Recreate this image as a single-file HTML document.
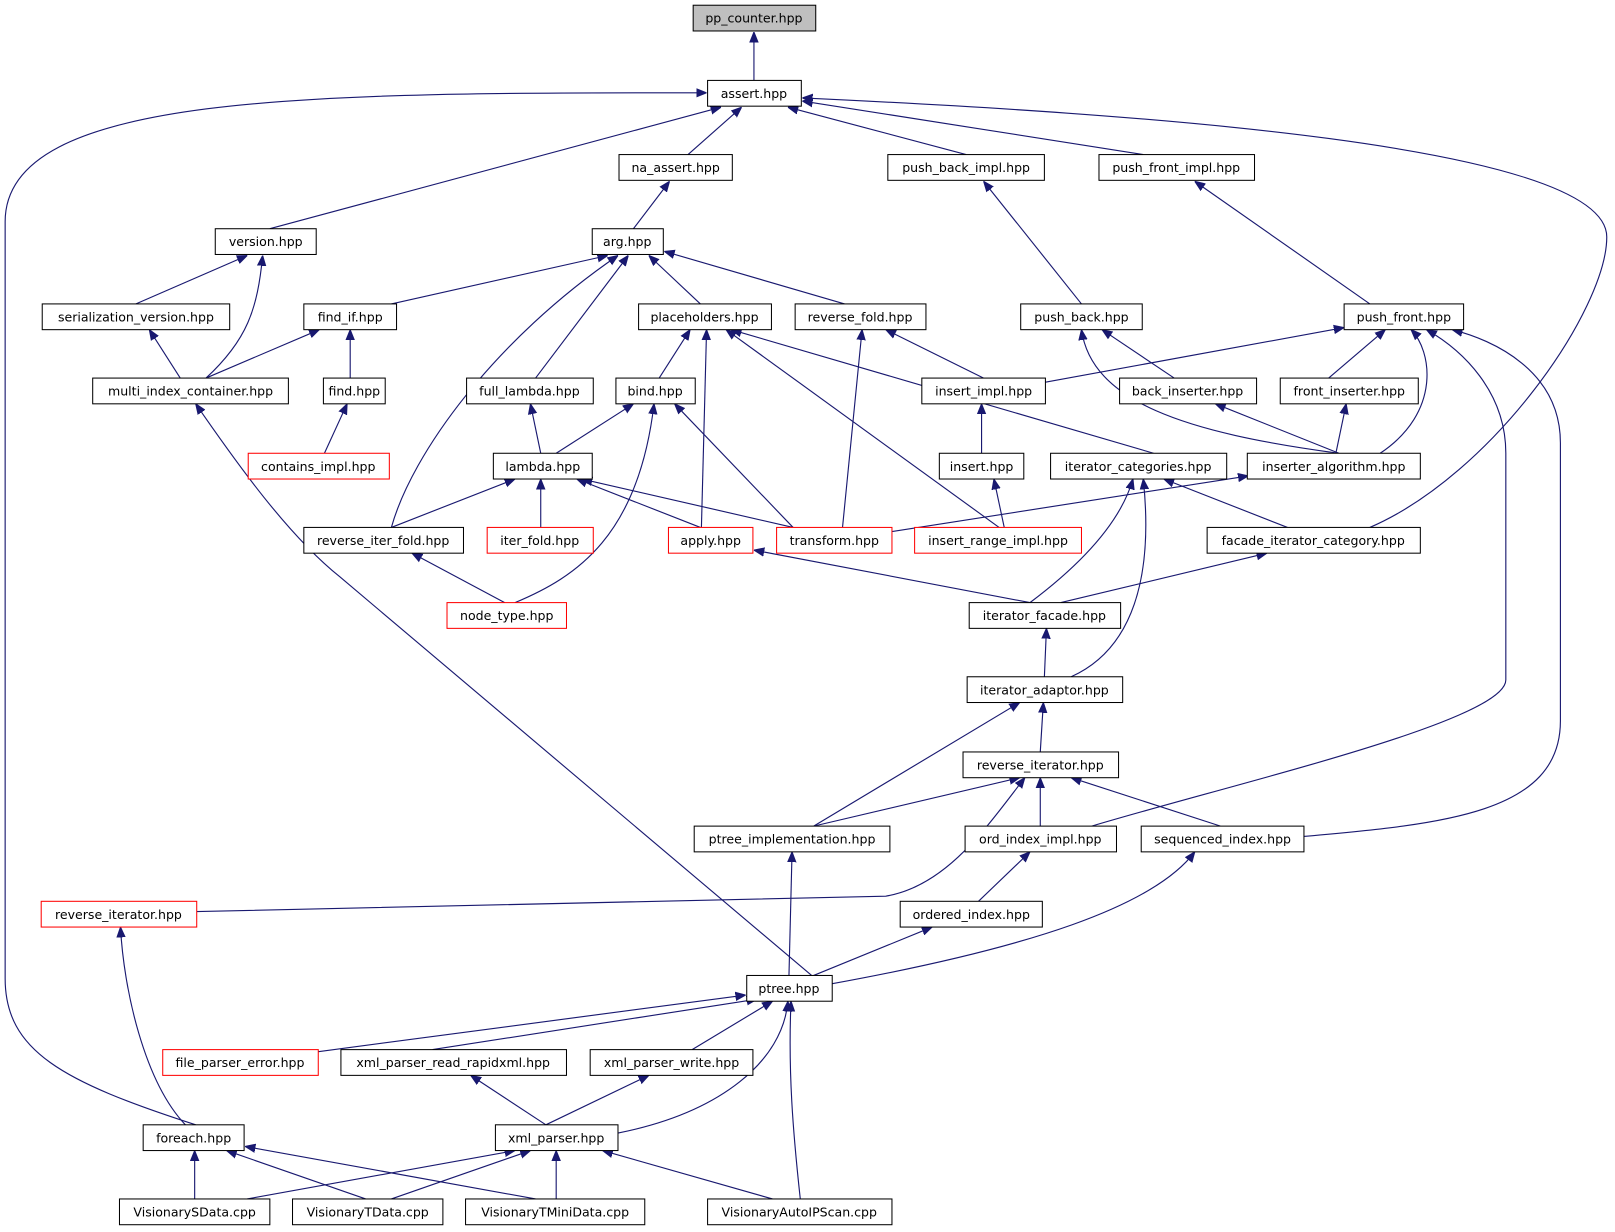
<!DOCTYPE html>
<html><head><meta charset="utf-8"><style>
html,body{margin:0;padding:0;background:#fff;width:1615px;height:1232px;overflow:hidden}
svg{display:block}
text{font-family:"DejaVu Sans","Liberation Sans",sans-serif;font-size:12.2px;text-anchor:middle;fill:#000}
.e{fill:none;stroke:#191970;stroke-width:1.1}
.n{fill:#fff;stroke:#000;stroke-width:1}
.r{fill:#fff;stroke:#ff0000;stroke-width:1}
</style></head><body>
<svg width="1615" height="1232" viewBox="0 0 1568 1196" xmlns="http://www.w3.org/2000/svg">
<defs><marker id="a" viewBox="0 0 10 10" refX="10" refY="5" markerWidth="10" markerHeight="10" markerUnits="userSpaceOnUse" orient="auto"><path d="M0,1 L10,5 L0,9 z" fill="#191970" stroke="#191970"/></marker></defs>
<g class="e" marker-end="url(#a)">
<path d="M732,78 L732,31"/>
<path d="M668,150 L720,104"/>
<path d="M262,222 L700,104"/>
<path d="M938,150 L765,104"/>
<path d="M1110,150 L779,98"/>
<path d="M190,1092 C60,1050 5,1020 5,950 L5,215 C5,90 300,90 686,90"/>
<path d="M1330,512 C1450,460 1560,300 1560,230 C1560,140 1100,110 779,95"/>
<path d="M615,222 L650,176"/>
<path d="M132,295 L240,248"/>
<path d="M200,367 C240,330 250,300 255,248"/>
<path d="M200,367 L310,320"/>
<path d="M175,367 L145,320"/>
<path d="M380,295 L590,248"/>
<path d="M340,367 L340,320"/>
<path d="M315,440 L337,392"/>
<path d="M380,512 C400,440 480,330 600,248"/>
<path d="M520,367 L610,248"/>
<path d="M680,295 L630,248"/>
<path d="M820,295 L645,244"/>
<path d="M1050,295 L955,176"/>
<path d="M1330,295 L1160,176"/>
<path d="M640,367 L670,320"/>
<path d="M681,512 L686,320"/>
<path d="M970,512 L705,320"/>
<path d="M1120,440 L710,320"/>
<path d="M955,367 L860,320"/>
<path d="M818,512 L837,320"/>
<path d="M1015,371 L1305,318"/>
<path d="M1140,367 L1070,320"/>
<path d="M1300,440 C1150,420 1060,390 1050,320"/>
<path d="M1290,367 L1345,320"/>
<path d="M1340,440 C1400,400 1390,340 1370,320"/>
<path d="M1060,802 C1200,760 1462,700 1462,660 L1462,440 C1462,380 1420,340 1385,320"/>
<path d="M1266,812 C1400,800 1515,790 1515,700 L1515,430 C1515,360 1450,330 1410,320"/>
<path d="M525,440 L515,392"/>
<path d="M540,440 L615,392"/>
<path d="M770,512 L655,392"/>
<path d="M500,585 C560,560 620,520 635,392"/>
<path d="M1300,440 L1180,392"/>
<path d="M1297,440 L1307,392"/>
<path d="M953,440 L953,392"/>
<path d="M380,512 L500,465"/>
<path d="M525,512 L525,465"/>
<path d="M680,512 L560,465"/>
<path d="M770,512 L565,465"/>
<path d="M975,512 L965,465"/>
<path d="M866,516 L1212,462"/>
<path d="M1000,585 C1060,540 1090,500 1100,465"/>
<path d="M1040,657 C1100,630 1120,560 1110,465"/>
<path d="M1250,512 L1130,465"/>
<path d="M490,585 L400,537"/>
<path d="M1000,585 L732,534"/>
<path d="M1030,585 L1230,537"/>
<path d="M1014,657 L1016,610"/>
<path d="M1010,730 L1013,682"/>
<path d="M790,802 L990,682"/>
<path d="M790,802 L990,755"/>
<path d="M1010,802 L1010,755"/>
<path d="M1185,802 L1040,755"/>
<path d="M191,885 L860,870 C920,860 960,800 995,755"/>
<path d="M950,875 L1000,827"/>
<path d="M788,947 L330,560 C280,520 230,450 190,392"/>
<path d="M766,947 L769,827"/>
<path d="M790,947 L905,900"/>
<path d="M808,955 C1000,920 1120,880 1160,827"/>
<path d="M180,1092 C140,1050 120,960 117,900"/>
<path d="M309,1021 L724,966"/>
<path d="M420,1019 L735,970"/>
<path d="M672,1019 L750,972"/>
<path d="M600,1100 C700,1080 760,1030 765,972"/>
<path d="M777,1164 C770,1100 765,1040 768,972"/>
<path d="M530,1092 L457,1044"/>
<path d="M530,1092 L630,1044"/>
<path d="M189,1164 L189,1117"/>
<path d="M355,1164 L220,1117"/>
<path d="M520,1164 L238,1113"/>
<path d="M240,1164 L500,1117"/>
<path d="M380,1164 L515,1117"/>
<path d="M540,1164 L540,1117"/>
<path d="M750,1164 L585,1117"/>
</g>
<g>
<rect x="673" y="5" width="119" height="25" fill="#bfbfbf" stroke="#000"/><text x="732" y="22">pp_counter.hpp</text>
<rect class="n" x="687" y="78" width="91" height="25"/><text x="732" y="95">assert.hpp</text>
<rect class="n" x="601" y="150" width="110" height="25"/><text x="656" y="167">na_assert.hpp</text>
<rect class="n" x="862" y="150" width="152" height="25"/><text x="938" y="167">push_back_impl.hpp</text>
<rect class="n" x="1067" y="150" width="151" height="25"/><text x="1142" y="167">push_front_impl.hpp</text>
<rect class="n" x="209" y="222" width="98" height="25"/><text x="258" y="239">version.hpp</text>
<rect class="n" x="575" y="222" width="69" height="25"/><text x="609" y="239">arg.hpp</text>
<rect class="n" x="41" y="295" width="182" height="25"/><text x="132" y="312">serialization_version.hpp</text>
<rect class="n" x="295" y="295" width="90" height="25"/><text x="340" y="312">find_if.hpp</text>
<rect class="n" x="620" y="295" width="129" height="25"/><text x="684" y="312">placeholders.hpp</text>
<rect class="n" x="772" y="295" width="127" height="25"/><text x="835" y="312">reverse_fold.hpp</text>
<rect class="n" x="991" y="295" width="118" height="25"/><text x="1050" y="312">push_back.hpp</text>
<rect class="n" x="1305" y="295" width="116" height="25"/><text x="1363" y="312">push_front.hpp</text>
<rect class="n" x="90" y="367" width="190" height="25"/><text x="185" y="384">multi_index_container.hpp</text>
<rect class="n" x="314" y="367" width="60" height="25"/><text x="344" y="384">find.hpp</text>
<rect class="n" x="453" y="367" width="123" height="25"/><text x="514" y="384">full_lambda.hpp</text>
<rect class="n" x="598" y="367" width="77" height="25"/><text x="636" y="384">bind.hpp</text>
<rect class="n" x="895" y="367" width="120" height="25"/><text x="955" y="384">insert_impl.hpp</text>
<rect class="n" x="1087" y="367" width="133" height="25"/><text x="1153" y="384">back_inserter.hpp</text>
<rect class="n" x="1243" y="367" width="134" height="25"/><text x="1310" y="384">front_inserter.hpp</text>
<rect class="r" x="241" y="440" width="137" height="25"/><text x="309" y="457">contains_impl.hpp</text>
<rect class="n" x="479" y="440" width="96" height="25"/><text x="527" y="457">lambda.hpp</text>
<rect class="n" x="912" y="440" width="82" height="25"/><text x="953" y="457">insert.hpp</text>
<rect class="n" x="1020" y="440" width="171" height="25"/><text x="1105" y="457">iterator_categories.hpp</text>
<rect class="n" x="1211" y="440" width="168" height="25"/><text x="1295" y="457">inserter_algorithm.hpp</text>
<rect class="n" x="295" y="512" width="155" height="25"/><text x="372" y="529">reverse_iter_fold.hpp</text>
<rect class="r" x="473" y="512" width="103" height="25"/><text x="524" y="529">iter_fold.hpp</text>
<rect class="r" x="649" y="512" width="82" height="25"/><text x="690" y="529">apply.hpp</text>
<rect class="r" x="754" y="512" width="112" height="25"/><text x="810" y="529">transform.hpp</text>
<rect class="r" x="888" y="512" width="162" height="25"/><text x="969" y="529">insert_range_impl.hpp</text>
<rect class="n" x="1172" y="512" width="207" height="25"/><text x="1275" y="529">facade_iterator_category.hpp</text>
<rect class="r" x="434" y="585" width="116" height="25"/><text x="492" y="602">node_type.hpp</text>
<rect class="n" x="941" y="585" width="147" height="25"/><text x="1014" y="602">iterator_facade.hpp</text>
<rect class="n" x="939" y="657" width="151" height="25"/><text x="1014" y="674">iterator_adaptor.hpp</text>
<rect class="n" x="935" y="730" width="151" height="25"/><text x="1010" y="747">reverse_iterator.hpp</text>
<rect class="n" x="674" y="802" width="190" height="25"/><text x="769" y="819">ptree_implementation.hpp</text>
<rect class="n" x="937" y="802" width="147" height="25"/><text x="1010" y="819">ord_index_impl.hpp</text>
<rect class="n" x="1108" y="802" width="158" height="25"/><text x="1187" y="819">sequenced_index.hpp</text>
<rect class="r" x="40" y="875" width="151" height="25"/><text x="115" y="892">reverse_iterator.hpp</text>
<rect class="n" x="874" y="875" width="138" height="25"/><text x="943" y="892">ordered_index.hpp</text>
<rect class="n" x="725" y="947" width="83" height="25"/><text x="766" y="964">ptree.hpp</text>
<rect class="r" x="158" y="1019" width="151" height="25"/><text x="233" y="1036">file_parser_error.hpp</text>
<rect class="n" x="331" y="1019" width="219" height="25"/><text x="440" y="1036">xml_parser_read_rapidxml.hpp</text>
<rect class="n" x="573" y="1019" width="158" height="25"/><text x="652" y="1036">xml_parser_write.hpp</text>
<rect class="n" x="139" y="1092" width="98" height="25"/><text x="188" y="1109">foreach.hpp</text>
<rect class="n" x="481" y="1092" width="119" height="25"/><text x="540" y="1109">xml_parser.hpp</text>
<rect class="n" x="116" y="1164" width="146" height="25"/><text x="189" y="1181">VisionarySData.cpp</text>
<rect class="n" x="284" y="1164" width="146" height="25"/><text x="357" y="1181">VisionaryTData.cpp</text>
<rect class="n" x="452" y="1164" width="174" height="25"/><text x="539" y="1181">VisionaryTMiniData.cpp</text>
<rect class="n" x="687" y="1164" width="179" height="25"/><text x="776" y="1181">VisionaryAutoIPScan.cpp</text>
</g>
</svg>
</body></html>
